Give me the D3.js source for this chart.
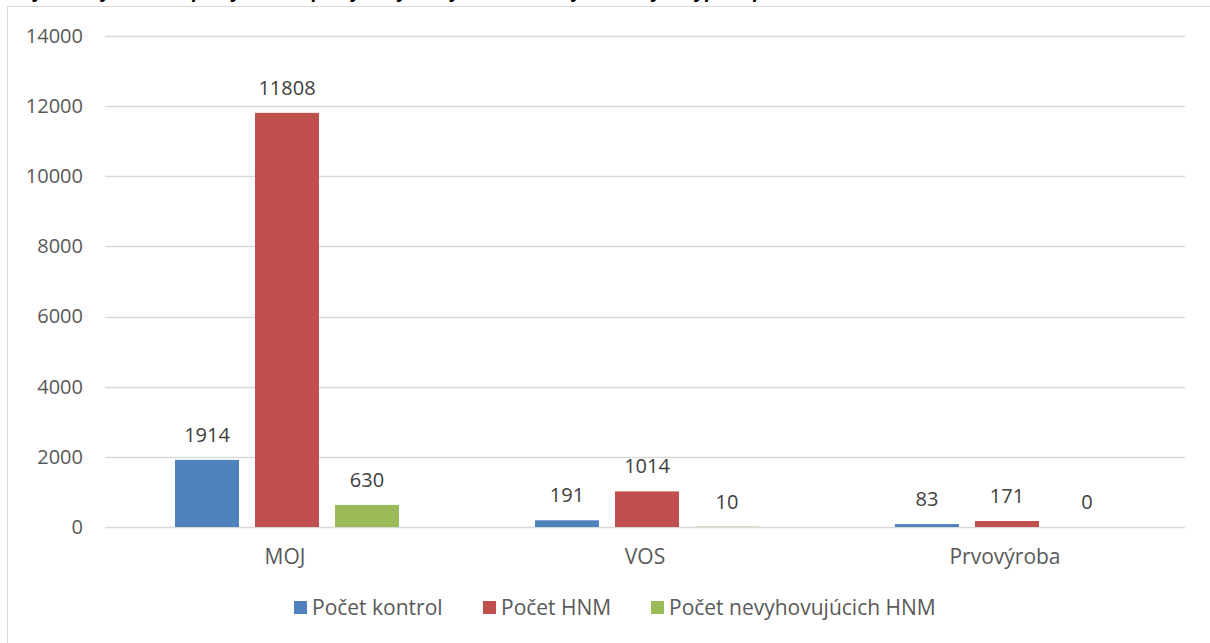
<!DOCTYPE html>
<html>
<head>
<meta charset="utf-8">
<script src="https://cdn.jsdelivr.net/npm/d3@7"></script>
<style>
  body { margin: 0; background: #fff; }
  svg { display: block; font-family: "Open Sans", "Noto Sans", sans-serif; }
</style>
</head>
<body>
<svg id="chart" width="1210" height="643"></svg>
<script>
// data
const categories = ["MOJ", "VOS", "Prvovýroba"];
const seriesNames = ["Počet kontrol", "Počet HNM", "Počet nevyhovujúcich HNM"];
const pocetKontrol = [1914, 191, 83];
const pocetHNM = [11808, 1014, 171];
const pocetNevyhovujucich = [630, 10, 0];
const yTicks = [0, 2000, 4000, 6000, 8000, 10000, 12000, 14000];
const colors = ["#4F81BD", "#C0504D", "#9BBB59"];

const series = [pocetKontrol, pocetHNM, pocetNevyhovujucich];

// layout
const margin = { top: 36, right: 25, bottom: 116, left: 105 };
const width = 1210 - margin.left - margin.right;
const height = 643 - margin.top - margin.bottom;

const svg = d3.select("#chart");

// chart frame (cut at the bottom like in the original)
svg.append("rect")
    .attr("x", 7.5).attr("y", 6.5)
    .attr("width", 1210).attr("height", 660)
    .attr("fill", "none")
    .attr("stroke", "#d9d9d9");

// title, only its lowest part visible above the frame
svg.append("text")
    .attr("x", 2).attr("y", -3)
    .attr("font-size", 19)
    .attr("font-style", "italic")
    .attr("font-weight", "bold")
    .attr("fill", "#000")
    .text("Graf 1 Počty kontrol, počty HNM a počty nevyhovujúcich HNM v jednotlivých typoch prevádzok");

const g = svg.append("g")
    .attr("transform", "translate(" + margin.left + "," + margin.top + ")");

// scales
const x0 = d3.scaleBand()
    .domain(categories)
    .range([0, width])
    .padding(0);

const x1 = d3.scaleBand()
    .domain(d3.range(seriesNames.length))
    .range([70, x0.bandwidth() - 66])
    .paddingInner(0.2);

const y = d3.scaleLinear()
    .domain([0, 14000])
    .range([height, 0]);

// gridlines
g.append("g")
    .selectAll("line")
    .data(yTicks)
    .enter().append("line")
    .attr("x1", 0).attr("x2", width)
    .attr("y1", function (d) { return Math.round(y(d)) + 0.5; })
    .attr("y2", function (d) { return Math.round(y(d)) + 0.5; })
    .attr("stroke", "#d9d9d9")
    .attr("stroke-width", 1.3);

// Y axis labels
const yAxis = g.append("g")
    .call(d3.axisLeft(y).tickValues(yTicks).tickFormat(d3.format("d")).tickSize(0).tickPadding(22));
yAxis.select(".domain").remove();
yAxis.selectAll("text")
    .attr("font-size", 20)
    .attr("font-family", "\"Open Sans\", sans-serif")
    .attr("fill", "#595959");

// X axis labels
const xAxis = g.append("g")
    .attr("transform", "translate(0," + height + ")")
    .call(d3.axisBottom(x0).tickSize(0).tickPadding(22));
xAxis.select(".domain").remove();
xAxis.selectAll("text")
    .attr("font-size", 21)
    .attr("font-family", "\"Open Sans\", sans-serif")
    .attr("fill", "#595959");

// bars
const groups = g.selectAll(".grp")
    .data(categories)
    .enter().append("g")
    .attr("class", "grp")
    .attr("transform", function (d) { return "translate(" + x0(d) + ",0)"; });

groups.selectAll("rect")
    .data(function (d, i) { return series.map(function (s, k) { return { k: k, v: s[i] }; }); })
    .enter().append("rect")
    .attr("x", function (d) { return x1(d.k); })
    .attr("y", function (d) { return y(d.v); })
    .attr("width", x1.bandwidth())
    .attr("height", function (d) { return height - y(d.v); })
    .attr("fill", function (d) { return colors[d.k]; });

// data labels
groups.selectAll("text.lbl")
    .data(function (d, i) { return series.map(function (s, k) { return { k: k, v: s[i] }; }); })
    .enter().append("text")
    .attr("class", "lbl")
    .attr("x", function (d) { return x1(d.k) + x1.bandwidth() / 2; })
    .attr("y", function (d) { return y(d.v) - 18; })
    .attr("text-anchor", "middle")
    .attr("font-size", 20)
    .attr("fill", "#404040")
    .text(function (d) { return d.v; });

// legend
const legendX = [294, 483, 651];
const legend = svg.append("g")
    .attr("transform", "translate(0,601)");
const items = legend.selectAll("g")
    .data(seriesNames)
    .enter().append("g")
    .attr("transform", function (d, i) { return "translate(" + legendX[i] + ",0)"; });
items.append("rect")
    .attr("width", 13).attr("height", 13)
    .attr("fill", function (d, i) { return colors[i]; });
items.append("text")
    .attr("x", 18).attr("y", 14)
    .attr("font-size", 21)
    .attr("fill", "#595959")
    .text(function (d) { return d; });
</script>
</body>
</html>
